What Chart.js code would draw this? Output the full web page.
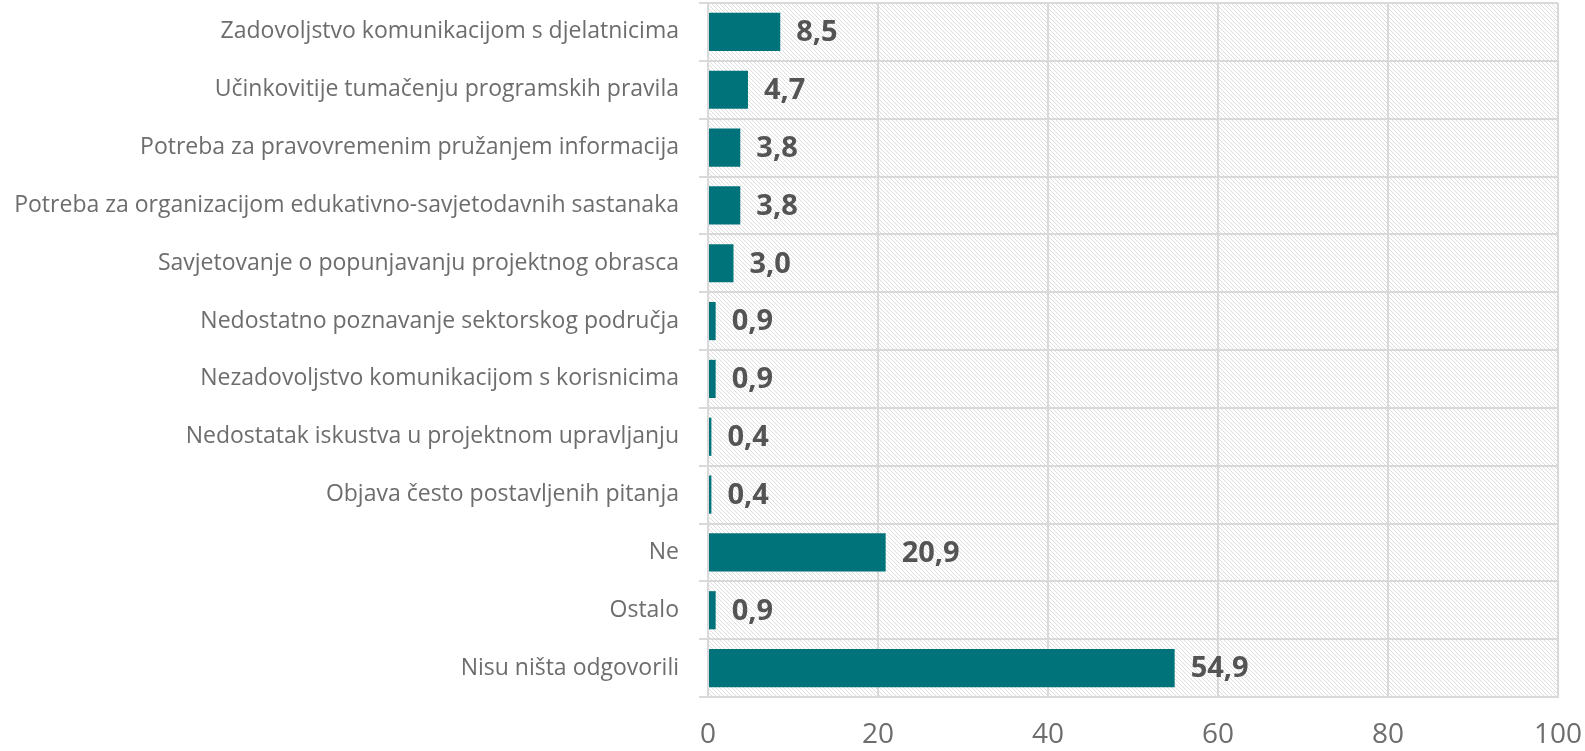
<!DOCTYPE html>
<html>
<head>
<meta charset="utf-8">
<script src="https://cdn.jsdelivr.net/npm/chart.js@4/dist/chart.umd.min.js"></script>
<style>
	html, body { margin: 0; padding: 0; background: #fff; }
	#wrap { width: 1585px; height: 751px; }
</style>
</head>
<body>
<div id="wrap"><canvas id="bar-chart"></canvas></div>
<script>
const CATEGORIES = [
	'Zadovoljstvo komunikacijom s djelatnicima',
	'Učinkovitije tumačenju programskih pravila',
	'Potreba za pravovremenim pružanjem informacija',
	'Potreba za organizacijom edukativno-savjetodavnih sastanaka',
	'Savjetovanje o popunjavanju projektnog obrasca',
	'Nedostatno poznavanje sektorskog područja',
	'Nezadovoljstvo komunikacijom s korisnicima',
	'Nedostatak iskustva u projektnom upravljanju',
	'Objava često postavljenih pitanja',
	'Ne',
	'Ostalo',
	'Nisu ništa odgovorili',
];
const VALUES = [8.5, 4.7, 3.8, 3.8, 3.0, 0.9, 0.9, 0.4, 0.4, 20.9, 0.9, 54.9];
const X_TICKS = [0, 20, 40, 60, 80, 100];

const TEAL = '#00737a';
const LABEL = '#6d6d6d';
const VALUE_TEXT = '#545454';
const GRID = '#d9d9d9';

function hatch() {
	const c = document.createElement('canvas');
	c.width = 4;
	c.height = 4;
	const g = c.getContext('2d');
	g.fillStyle = '#fff';
	g.fillRect(0, 0, 4, 4);
	g.fillStyle = '#dedede';
	for (let i = 0; i < 4; i++) g.fillRect(i, i, 1, 1);
	return g.createPattern(c, 'repeat');
}

const areaBg = {
	id: 'areaBg',
	beforeDraw(chart) {
		const { ctx, chartArea: a } = chart;
		ctx.save();
		ctx.fillStyle = hatch();
		ctx.fillRect(a.left, a.top, a.right - a.left, a.bottom - a.top);
		ctx.restore();
	},
};

const valueLabels = {
	id: 'valueLabels',
	afterDatasetsDraw(chart) {
		const { ctx } = chart;
		ctx.save();
		ctx.font = 'bold 29px "Open Sans"';
		ctx.fillStyle = VALUE_TEXT;
		ctx.textBaseline = 'middle';
		chart.getDatasetMeta(0).data.forEach((bar, i) => {
			ctx.fillText(VALUES[i].toFixed(1).replace('.', ','), bar.x + 16, bar.y + 1);
		});
		ctx.restore();
	},
};

new Chart(document.getElementById('bar-chart'), {
	type: 'bar',
	data: {
		labels: CATEGORIES,
		datasets: [{
			data: VALUES,
			backgroundColor: TEAL,
			barPercentage: 0.66,
			categoryPercentage: 1,
		}],
	},
	options: {
		indexAxis: 'y',
		responsive: true,
		maintainAspectRatio: false,
		animation: false,
		layout: { padding: { top: 3, right: 27, left: 0, bottom: 0 } },
		plugins: {
			legend: { display: false },
			tooltip: { enabled: false },
		},
		scales: {
			x: {
				min: 0,
				max: 100,
				afterBuildTicks(scale) {
					scale.ticks = X_TICKS.map(v => ({ value: v }));
				},
				afterFit(scale) {
					scale.height = 54;
					scale.paddingLeft = 0;
					scale.paddingRight = 0;
				},
				grid: { color: GRID, lineWidth: 2, drawTicks: false },
				border: { color: GRID, width: 2 },
				ticks: { color: LABEL, font: { family: 'Open Sans', size: 28 }, padding: 21 },
			},
			y: {
				afterFit(scale) {
					scale.width = 708;
					scale.paddingTop = 0;
					scale.paddingBottom = 0;
				},
				grid: { color: GRID, lineWidth: 2, tickLength: 9 },
				border: { color: GRID, width: 2 },
				ticks: { color: LABEL, font: { family: 'Open Sans', size: 23 }, padding: 20, autoSkip: false },
			},
		},
	},
	plugins: [areaBg, valueLabels],
});
</script>
</body>
</html>
